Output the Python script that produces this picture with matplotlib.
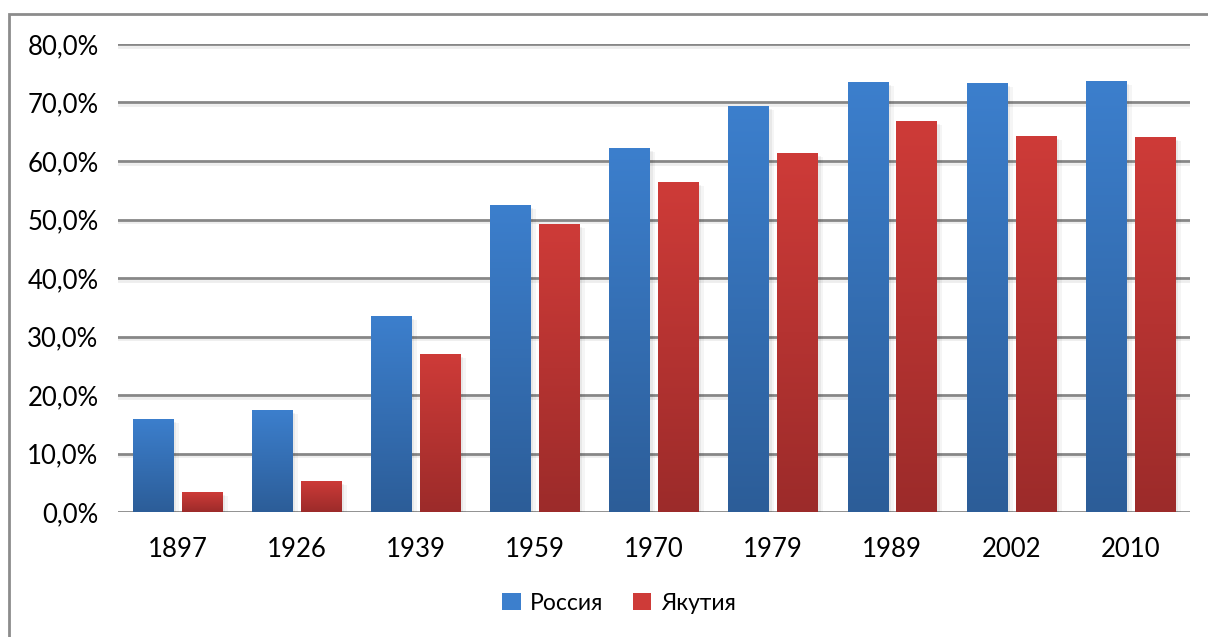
import matplotlib
matplotlib.use("Agg")
import matplotlib.pyplot as plt
import numpy as np
from matplotlib.colors import LinearSegmentedColormap
from matplotlib.patches import Rectangle, Patch
import matplotlib.patheffects as pe

years = ["1897", "1926", "1939", "1959", "1970", "1979", "1989", "2002", "2010"]
russia = [15.9, 17.4, 33.5, 52.5, 62.2, 69.4, 73.5, 73.3, 73.7]
yakutia = [3.4, 5.3, 27.0, 49.2, 56.4, 61.4, 66.8, 64.3, 64.1]
series_names = ["Россия", "Якутия"]
yticks = [0, 10, 20, 30, 40, 50, 60, 70, 80]

blue_top, blue_bot = "#3C7FCD", "#2C5D98"
red_top, red_bot = "#CE3B38", "#9C2B2A"

plt.rcParams['font.family'] = ['Lato', 'Open Sans', 'DejaVu Sans']

W, H = 1208, 637
fig = plt.figure(figsize=(W / 100, H / 100), dpi=100)
fig.patch.set_facecolor("white")

# outer frame (extends beyond image on right/bottom)
frame = Rectangle((9 / W, -0.1), 1.2, (H - 14) / H + 0.1, transform=fig.transFigure,
                  fill=False, edgecolor="#8C8C8C", linewidth=2, zorder=0)
fig.patches.append(frame)

ax = fig.add_axes([118 / W, 125 / H, (1190 - 118) / W, (512 - 44) / H])
ax.set_xlim(-0.5, len(years) - 0.5)
ax.set_ylim(0, 80)

x = np.arange(len(years))
w = 0.34
off = 0.205

grad = np.linspace(1, 0, 256).reshape(-1, 1)

shadow = [pe.SimplePatchShadow(offset=(4, -3), shadow_rgbFace="#000000", alpha=0.04),
          pe.SimplePatchShadow(offset=(2, -2), shadow_rgbFace="#000000", alpha=0.05),
          pe.Normal()]

def grad_bars(xpos, vals, top, bot, label):
    cmap = LinearSegmentedColormap.from_list("g", [bot, top])
    bars = ax.bar(xpos, vals, width=w, color=top, label=label, zorder=3, linewidth=0,
                  path_effects=shadow)
    for b in bars:
        x0, y0 = b.get_x(), b.get_y()
        bw, bh = b.get_width(), b.get_height()
        im = ax.imshow(grad, cmap=cmap, aspect="auto", extent=(x0, x0 + bw, y0, y0 + bh),
                       zorder=4, interpolation="bilinear")
        im.set_clip_path(b)
    return bars

b1 = grad_bars(x - off, russia, blue_top, blue_bot, series_names[0])
b2 = grad_bars(x + off, yakutia, red_top, red_bot, series_names[1])
ax.set_xlim(-0.5, len(years) - 0.5)
ax.set_ylim(0, 80)

for yv in yticks:
    ax.axhline(yv, color="#878787", linewidth=2, zorder=1,
               path_effects=[pe.SimpleLineShadow(offset=(0, -2), shadow_color="#000000", alpha=0.07),
                             pe.Normal()])

for s in ax.spines.values():
    s.set_visible(False)

ax.set_yticks(yticks)
ax.set_yticklabels([f"{v:.1f}%".replace(".", ",") for v in yticks])
ax.set_xticks(x)
ax.set_xticklabels(years)
ax.tick_params(axis="both", length=0, labelsize=18.5, colors="#000000")
ax.tick_params(axis="y", pad=14)
ax.tick_params(axis="x", pad=18)

handles = [Patch(facecolor=blue_top, edgecolor="none"), Patch(facecolor=red_top, edgecolor="none")]
leg = fig.legend(handles, series_names, loc="center", bbox_to_anchor=(619 / W, 1 - 603 / H),
                 ncol=2, frameon=False, fontsize=16.5, handlelength=0.8, handleheight=0.8,
                 handletextpad=0.4, columnspacing=1.3)

fig.savefig("out.png", dpi=100, facecolor="white")
